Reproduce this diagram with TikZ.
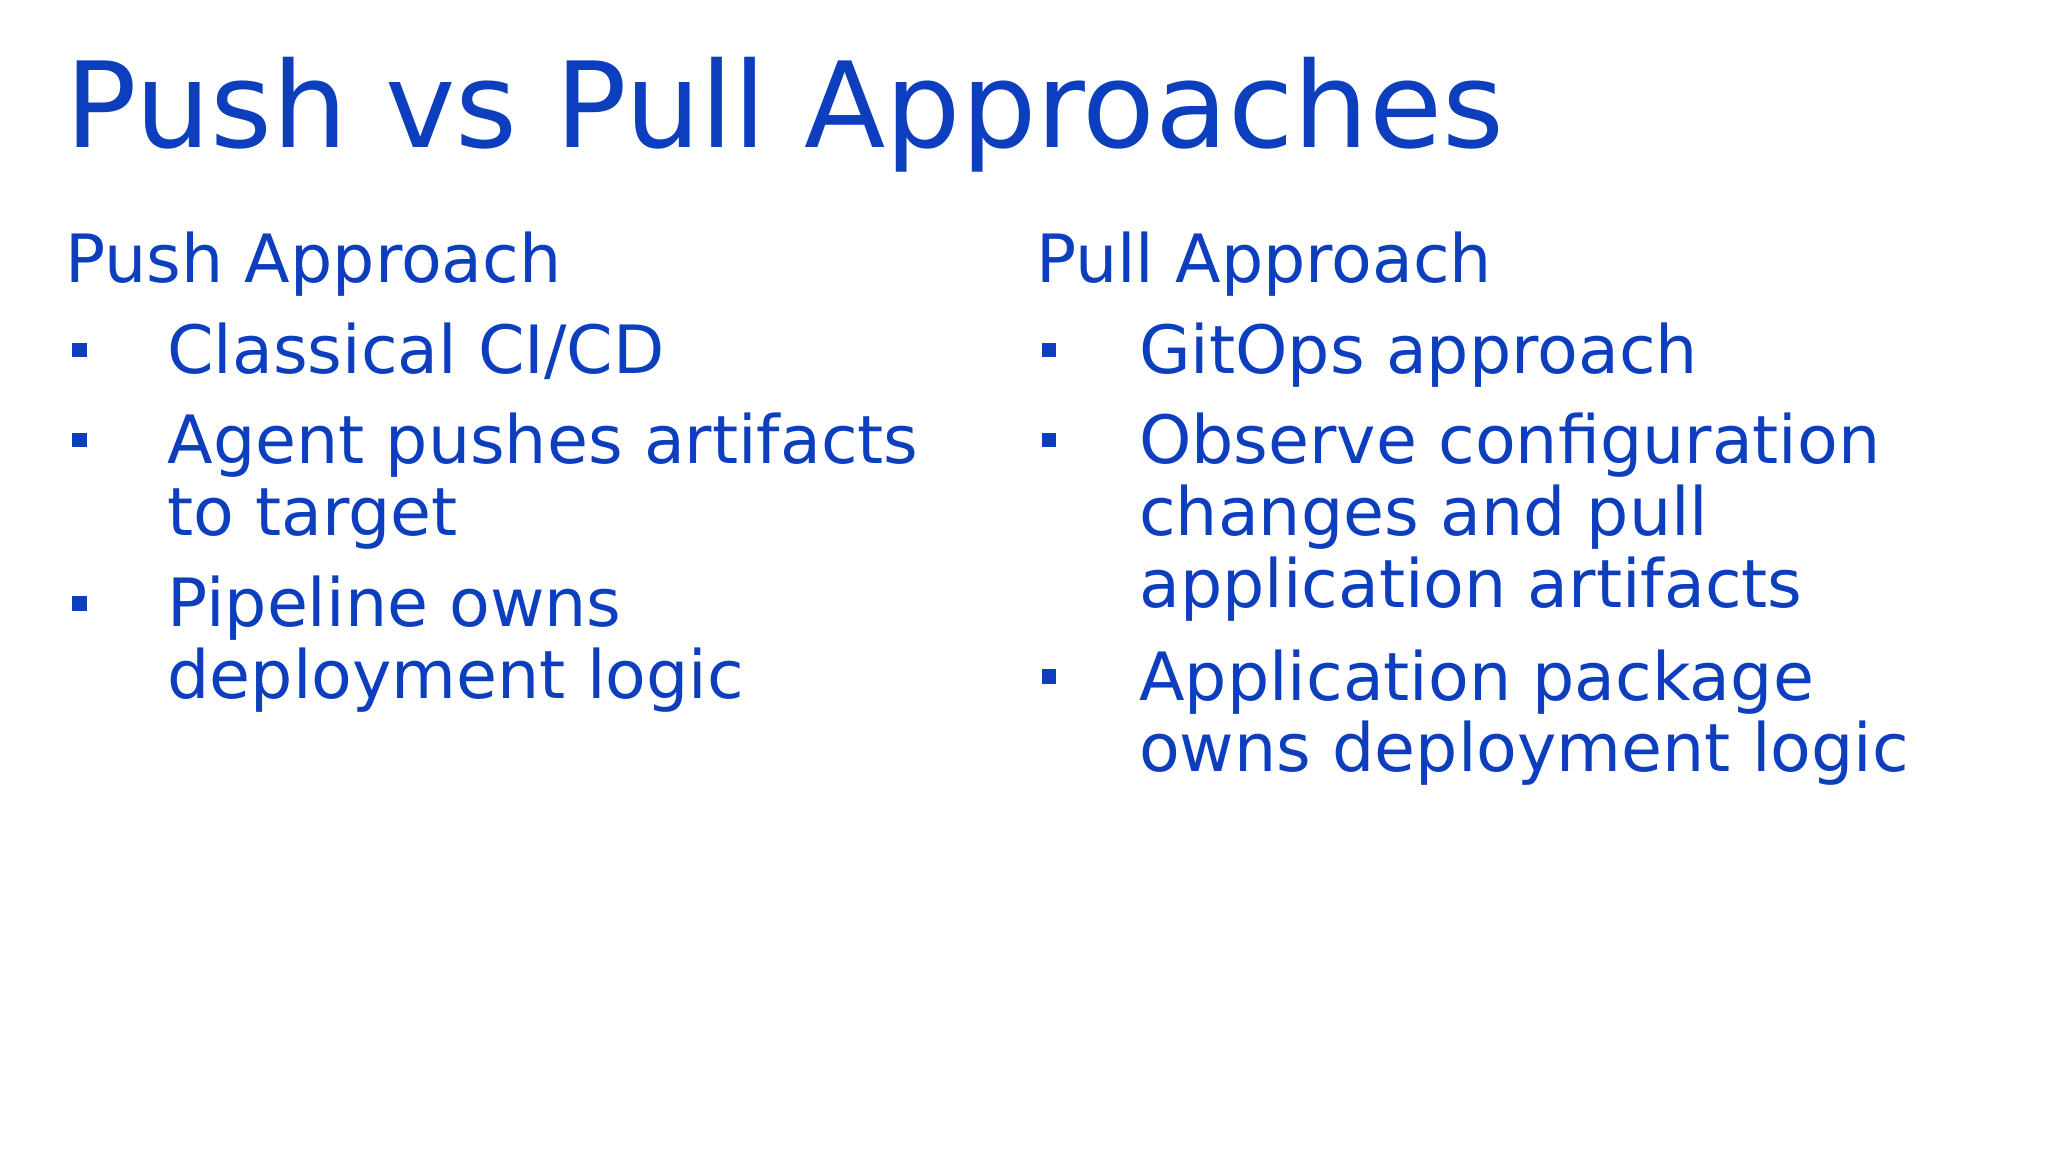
\documentclass[tikz,border=0pt]{standalone}
\usepackage{fontspec}
\setmainfont{DejaVu Sans}
\definecolor{slideblue}{RGB}{12,62,190}
\begin{document}
\begin{tikzpicture}[x=1pt,y=-1pt,
  txt/.style={anchor=base west,inner sep=0pt,text=slideblue,font=\fontsize{51}{56}\selectfont},
  ttl/.style={anchor=base west,inner sep=0pt,text=slideblue,font=\fontsize{91}{100}\selectfont},
  bul/.style={fill=slideblue,draw=none,minimum size=11pt,inner sep=0pt}]
\useasboundingbox[fill=white] (0,0) rectangle (1568,882);
\node[ttl] (title) at (50,113) {Push vs Pull Approaches};
% left column
\node[txt] (lh) at (50,216) {Push Approach};
\node[bul] (lb1) at (61,268) {};
\node[txt] (l1) at (128,286) {Classical CI/CD};
\node[bul] (lb2) at (61,337) {};
\node[txt] (l2a) at (128,355) {Agent pushes artifacts};
\node[txt] (l2b) at (128,410) {to target};
\node[bul] (lb3) at (61,462) {};
\node[txt] (l3a) at (128,480) {Pipeline owns};
\node[txt] (l3b) at (128,535) {deployment logic};
% right column
\node[txt] (rh) at (793,216) {Pull Approach};
\node[bul] (rb1) at (803,268) {};
\node[txt] (r1) at (872,286) {GitOps approach};
\node[bul] (rb2) at (803,337) {};
\node[txt] (r2a) at (872,355) {Observe configuration};
\node[txt] (r2b) at (872,410) {changes and pull};
\node[txt] (r2c) at (872,465) {application artifacts};
\node[bul] (rb3) at (803,518) {};
\node[txt] (r3a) at (872,536) {Application package};
\node[txt] (r3b) at (872,591) {owns deployment logic};
\end{tikzpicture}
\end{document}
